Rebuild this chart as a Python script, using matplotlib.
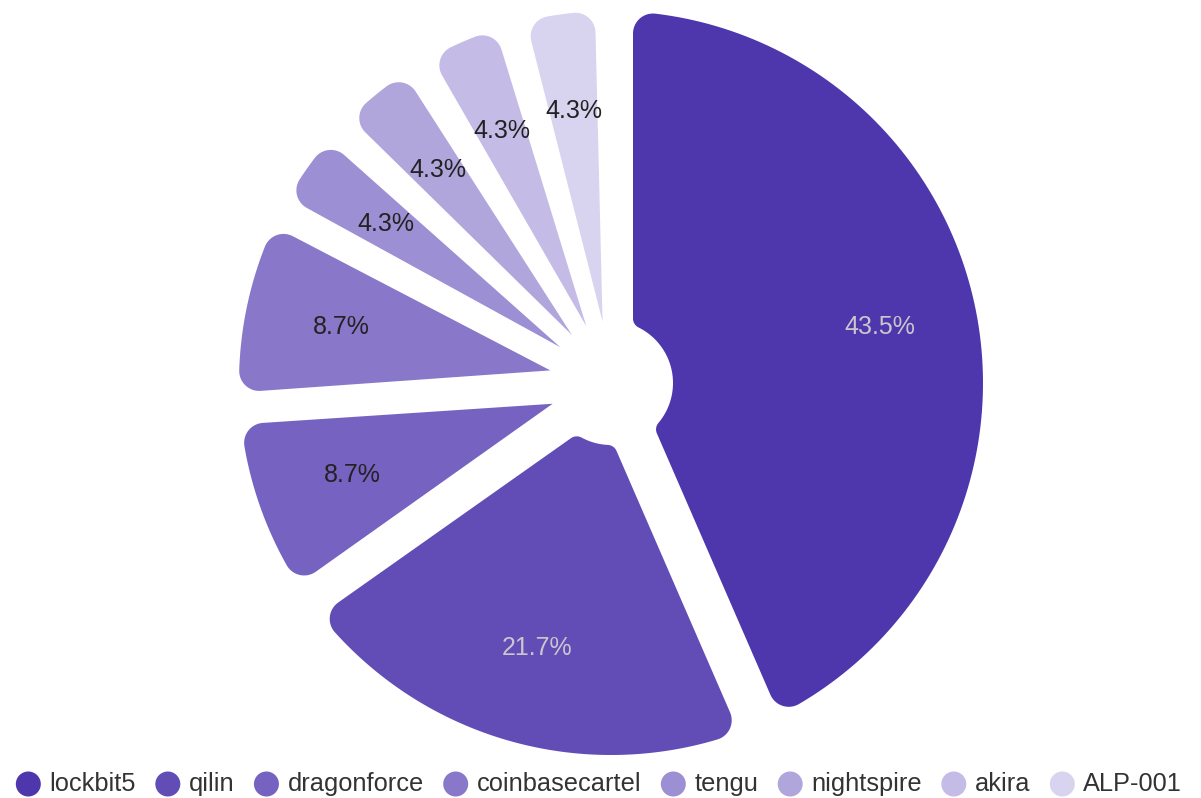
import numpy as np
import matplotlib
matplotlib.use('Agg')
import matplotlib.pyplot as plt
from matplotlib.patches import Polygon, Circle

# data
names = ['lockbit5', 'qilin', 'dragonforce', 'coinbasecartel', 'tengu', 'nightspire', 'akira', 'ALP-001']
counts = [10, 5, 2, 2, 1, 1, 1, 1]
colors = ['#4e36ad', '#624db7', '#7562c1', '#8977c9', '#9d8fd3', '#b1a6dc', '#c4bce6', '#d8d3ef']
label_colors = ['#c8c8cc', '#c8c8cc', '#222222', '#222222', '#222222', '#222222', '#222222', '#222222']

W, H = 1201, 798
cx, cy = 611, 383      # pie centre (px)
R, r0 = 372, 62        # outer / inner radius
w_big, w_small = 22, 16  # half gap width (wide / narrow slices)
rc, rci = 20, 10       # corner radius outer / inner
label_r = 275

plt.rcParams['font.family'] = ['Liberation Sans', 'DejaVu Sans']

fig = plt.figure(figsize=(W / 100, H / 100), dpi=100)
ax = fig.add_axes([0, 0, 1, 1])
ax.set_xlim(0, W)
ax.set_ylim(H, 0)
ax.axis('off')


def pt(theta, r):
    # compass angle (clockwise from north), local coords with y up
    return np.array([r * np.sin(theta), r * np.cos(theta)])


def unit(v):
    return v / np.linalg.norm(v)


def fillet(A, u, n, rad, Rc):
    B = A + rad * n
    bu = B @ u
    t = -bu + np.sqrt(max(bu ** 2 - B @ B + Rc ** 2, 0))
    return B + t * u, A + t * u


def arc(C, P, Q, k=16):
    a1 = np.arctan2(*(P - C)[::-1])
    a2 = np.arctan2(*(Q - C)[::-1])
    d = (a2 - a1 + np.pi) % (2 * np.pi) - np.pi
    rr = np.linalg.norm(P - C)
    a = a1 + d * np.linspace(0, 1, k)
    return [C + rr * np.array([np.cos(x), np.sin(x)]) for x in a]


def compass(p, ref):
    a = np.arctan2(p[0], p[1])
    return ref + (a - ref + np.pi) % (2 * np.pi) - np.pi


def outline(t0, t1):
    pin = np.arcsin(w_big / r0)
    collapsed = (t1 - t0) <= 2 * pin
    w = w_small if collapsed else w_big
    po = np.arcsin(w / R)
    Po0, Po1 = pt(t0 + po, R), pt(t1 - po, R)
    if collapsed:
        Pi0 = Pi1 = pt((t0 + t1) / 2, r0)
    else:
        Pi0, Pi1 = pt(t0 + pin, r0), pt(t1 - pin, r0)
    mid = pt((t0 + t1) / 2, (r0 + R) / 2)

    def normal(A, u):
        n = np.array([-u[1], u[0]])
        return n if (mid - A) @ n > 0 else -n

    u0, u1 = unit(Po0 - Pi0), unit(Po1 - Pi1)
    n0, n1 = normal(Pi0, u0), normal(Pi1, u1)

    Cs, TLs = fillet(Pi0, u0, n0, rc, R - rc)
    TCs = unit(Cs) * R
    Ce, TLe = fillet(Pi1, u1, n1, rc, R - rc)
    TCe = unit(Ce) * R

    pts = arc(Cs, TLs, TCs)
    aa = np.linspace(compass(TCs, t0), compass(TCe, t1), 120)
    pts += [pt(a, R) for a in aa]
    pts += arc(Ce, TCe, TLe)
    if collapsed:
        pts.append(Pi1)
    else:
        Cie, TLie = fillet(Pi1, u1, n1, rci, r0 + rci)
        TCie = unit(Cie) * r0
        Cis, TLis = fillet(Pi0, u0, n0, rci, r0 + rci)
        TCis = unit(Cis) * r0
        pts += arc(Cie, TLie, TCie)
        aa = np.linspace(compass(TCie, t1), compass(TCis, t0), 60)
        pts += [pt(a, r0) for a in aa]
        pts += arc(Cis, TCis, TLis)
    pts = np.array(pts)
    return np.column_stack([cx + pts[:, 0], cy - pts[:, 1]])


total = sum(counts)
start = 0.0
for name, v, col, lc in zip(names, counts, colors, label_colors):
    span = v / total * 2 * np.pi
    xy = outline(start, start + span)
    ax.add_patch(Polygon(xy, closed=True, facecolor=col, edgecolor='none'))
    m = pt(start + span / 2, label_r)
    ax.text(cx + m[0], cy - m[1], f'{v / total * 100:.1f}%', color=lc,
            fontsize=18, ha='center', va='center')
    start += span

# legend
renderer = fig.canvas.get_renderer()
leg_y = 784
circ_d, circ_gap, item_gap = 25, 8.5, 19.5
texts = []
widths = []
for name in names:
    t = ax.text(0, leg_y, name, fontsize=18.3, color='#333333', ha='left', va='center')
    bb = t.get_window_extent(renderer)
    texts.append(t)
    widths.append(bb.width)
total_w = sum(circ_d + circ_gap + tw for tw in widths) + item_gap * (len(names) - 1)
x = 599 - total_w / 2
for t, tw, col in zip(texts, widths, colors):
    ax.add_patch(Circle((x + circ_d / 2, leg_y), circ_d / 2, facecolor=col, edgecolor='none'))
    t.set_x(x + circ_d + circ_gap)
    x += circ_d + circ_gap + tw + item_gap

fig.savefig('out.png', dpi=100, facecolor='white')
